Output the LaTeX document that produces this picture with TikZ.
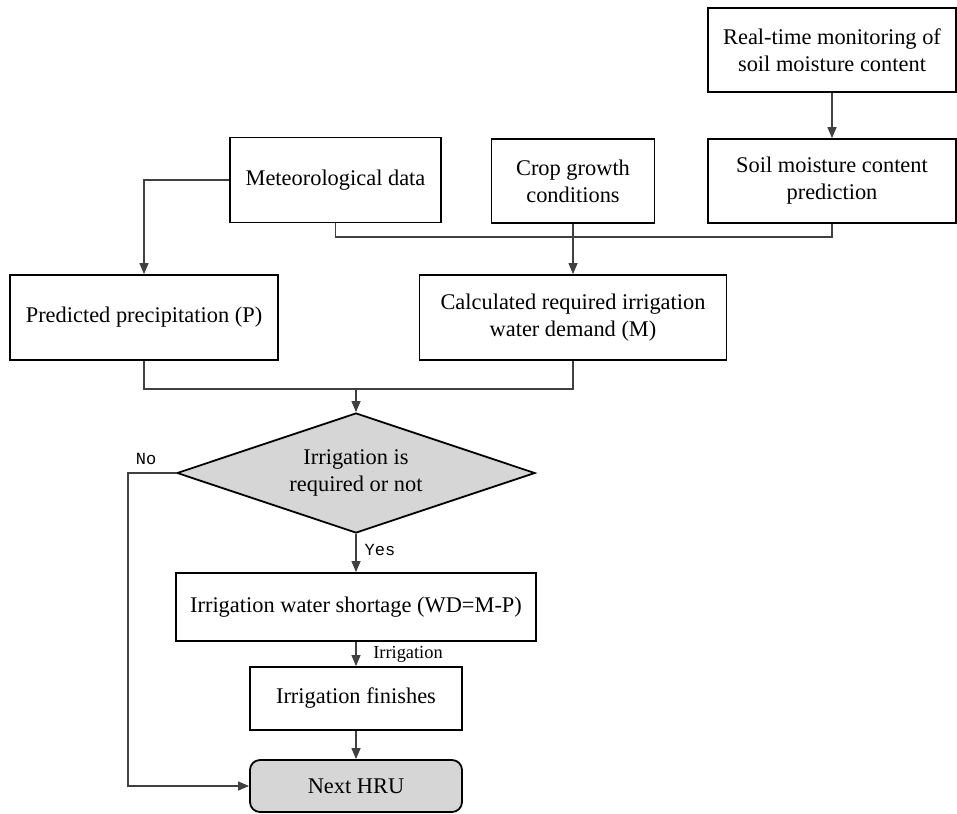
\documentclass[tikz,border=0pt]{standalone}
\usepackage{fontspec}
\setmainfont{Liberation Serif}
\newfontfamily\labelmono{Liberation Mono}
\usetikzlibrary{shapes.geometric, arrows.meta}

\begin{document}
\begin{tikzpicture}[x=0.5pt, y=-0.5pt,
  box/.style={draw=black, line width=0.9pt, align=center, inner sep=0pt,
    font=\fontsize{11.2}{13.6}\selectfont},
  conn/.style={draw=black!75, line width=0.6pt},
  arr/.style={conn, -{Triangle[length=5.5pt, width=4.5pt]}},
  tag/.style={font=\fontsize{9.2}{11}\selectfont},
  monotag/.style={font=\labelmono\fontsize{8.5}{10}\selectfont}
]
  \useasboundingbox (0,0) rectangle (957,813);

  % Top row
  \node[box, minimum width=124pt, minimum height=42pt] (monitor) at (832,50) {Real-time monitoring of\\soil moisture content};
  \node[box, minimum width=124pt, minimum height=42pt] (soilpred) at (832,181) {Soil moisture content\\prediction};
  \node[box, minimum width=105.5pt, minimum height=42.5pt] (meteo) at (335.5,180) {Meteorological data};
  \node[box, minimum width=81.5pt, minimum height=42pt] (crop) at (573,181) {Crop growth\\conditions};

  % Second row
  \node[box, minimum width=134pt, minimum height=42.5pt] (precip) at (144,317.5) {Predicted precipitation (P)};
  \node[box, minimum width=153.5pt, minimum height=42.5pt] (demand) at (573,317.5) {Calculated required irrigation\\water demand (M)};

  % Decision and lower chain
  \node[box, shape=diamond, fill=black!16, aspect=3, minimum width=179pt, minimum height=60pt] (decide) at (356,473) {Irrigation is\\required or not};
  \node[box, minimum width=180pt, minimum height=34pt] (shortage) at (356,607) {Irrigation water shortage (WD=M-P)};
  \node[box, minimum width=106pt, minimum height=31.5pt] (finish) at (356,698.5) {Irrigation finishes};
  \node[box, rounded corners=5pt, fill=black!16, minimum width=106pt, minimum height=26pt] (nexthru) at (356,786) {Next HRU};

  \coordinate (mergeA) at (573,237);
  \coordinate (mergeB) at (356,389);
  \coordinate (noturn) at (128,473);

  % Connectors
  \draw[arr] (monitor.south) -- (soilpred.north);
  \draw[arr] (meteo.west) -| (precip.north);
  \draw[conn] (meteo.south) |- (mergeA) -| (soilpred.south);
  \draw[arr] (crop.south) -- (demand.north);
  \draw[conn] (precip.south) |- (mergeB) -| (demand.south);
  \draw[arr] (mergeB) -- (decide.north);
  \draw[arr] (decide.south) -- (shortage.north);
  \draw[arr] (shortage.south) -- (finish.north);
  \draw[arr] (finish.south) -- (nexthru.north);
  \draw[arr] (decide.west) -- (noturn) |- (nexthru.west);

  % Labels
  \node[monotag] (nolbl) at (146,459) {No};
  \node[monotag] (yeslbl) at (380,550) {Yes};
  \node[tag] (irrlbl) at (408,654) {Irrigation};
\end{tikzpicture}
\end{document}
